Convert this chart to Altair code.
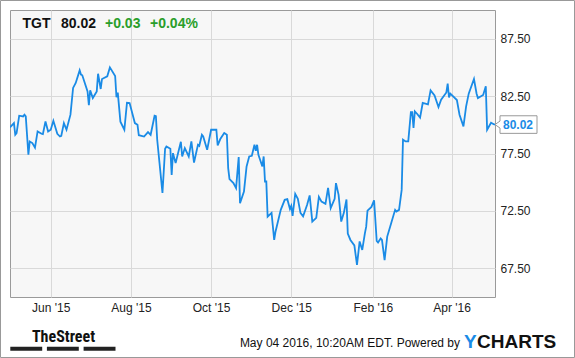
import altair as alt
import pandas as pd

# ---------------- data ----------------
dates = [
    "2015-05-01", "2015-05-04", "2015-05-05", "2015-05-06", "2015-05-08", "2015-05-11", "2015-05-12",
    "2015-05-13", "2015-05-15", "2015-05-16", "2015-05-18", "2015-05-20", "2015-05-22", "2015-05-25",
    "2015-05-26", "2015-05-28", "2015-05-30", "2015-06-01", "2015-06-03", "2015-06-06", "2015-06-08",
    "2015-06-09", "2015-06-11", "2015-06-13", "2015-06-16", "2015-06-18", "2015-06-20", "2015-06-23",
    "2015-06-24", "2015-06-25", "2015-06-29", "2015-06-30", "2015-07-01", "2015-07-03", "2015-07-06",
    "2015-07-07", "2015-07-09", "2015-07-10", "2015-07-14", "2015-07-16", "2015-07-20", "2015-07-21",
    "2015-07-22", "2015-07-24", "2015-07-27", "2015-07-29", "2015-07-31", "2015-08-04", "2015-08-06",
    "2015-08-07", "2015-08-11", "2015-08-14", "2015-08-16", "2015-08-19", "2015-08-20", "2015-08-21",
    "2015-08-25", "2015-08-27", "2015-08-28", "2015-08-31", "2015-09-01", "2015-09-02", "2015-09-04",
    "2015-09-08", "2015-09-09", "2015-09-11", "2015-09-14", "2015-09-16", "2015-09-18", "2015-09-21",
    "2015-09-22", "2015-09-24", "2015-09-25", "2015-09-28", "2015-10-01", "2015-10-05", "2015-10-06",
    "2015-10-08", "2015-10-11", "2015-10-13", "2015-10-14", "2015-10-15", "2015-10-18", "2015-10-20",
    "2015-10-22", "2015-10-23", "2015-10-26", "2015-10-28", "2015-10-30", "2015-11-01", "2015-11-03",
    "2015-11-04", "2015-11-05", "2015-11-06", "2015-11-09", "2015-11-10", "2015-11-11", "2015-11-12",
    "2015-11-13", "2015-11-16", "2015-11-18", "2015-11-19", "2015-11-23", "2015-11-26", "2015-11-28",
    "2015-11-30", "2015-12-01", "2015-12-02", "2015-12-04", "2015-12-06", "2015-12-08", "2015-12-10",
    "2015-12-13", "2015-12-15", "2015-12-17", "2015-12-20", "2015-12-22", "2015-12-24", "2015-12-27",
    "2015-12-29", "2015-12-31", "2016-01-03", "2016-01-04", "2016-01-06", "2016-01-08", "2016-01-10",
    "2016-01-12", "2016-01-13", "2016-01-15", "2016-01-18", "2016-01-20", "2016-01-22", "2016-01-24",
    "2016-01-26", "2016-01-27", "2016-01-28", "2016-01-31", "2016-02-02", "2016-02-04", "2016-02-05",
    "2016-02-07", "2016-02-08", "2016-02-10", "2016-02-12", "2016-02-15", "2016-02-18", "2016-02-19",
    "2016-02-21", "2016-02-23", "2016-02-24", "2016-02-26", "2016-02-28", "2016-03-01", "2016-03-02",
    "2016-03-03", "2016-03-04", "2016-03-06", "2016-03-08", "2016-03-10", "2016-03-14", "2016-03-16",
    "2016-03-19", "2016-03-22", "2016-03-24", "2016-03-28", "2016-03-29", "2016-03-30", "2016-03-31",
    "2016-04-05", "2016-04-07", "2016-04-10", "2016-04-12", "2016-04-14", "2016-04-18", "2016-04-20",
    "2016-04-21", "2016-04-25", "2016-04-27", "2016-04-28", "2016-05-01", "2016-05-03", "2016-05-04",
]
prices = [
    79.77, 80.15, 79.13, 79.28, 80.79, 80.73, 80.88,
    80.73, 77.39, 78.55, 78.41, 78.02, 79.42, 79.22,
    79.19, 80.29, 79.42, 79.57, 80.35, 79.22, 78.98,
    79.04, 80.15, 79.57, 80.88, 83.21, 83.64, 84.74,
    84.37, 84.31, 82.91, 81.71, 83.01, 82.33, 82.91,
    84.45, 83.12, 83.99, 84.22, 85.00, 84.25, 82.40,
    82.80, 80.27, 79.57, 81.92, 81.90, 80.15, 80.00,
    79.09, 78.98, 79.37, 79.13, 80.79, 80.75, 78.70,
    74.07, 77.91, 78.11, 77.91, 75.64, 77.53, 76.66,
    78.52, 77.24, 77.97, 77.24, 78.55, 76.71, 78.26,
    78.17, 79.13, 78.98, 77.82, 79.57, 79.57, 78.20,
    78.76, 79.28, 79.13, 76.23, 75.27, 74.92, 74.48,
    77.19, 73.17, 74.18, 76.37, 77.24, 77.30, 78.26,
    77.74, 78.26, 77.39, 76.37, 77.24, 75.06, 75.06,
    72.00, 72.33, 69.97, 70.69, 72.59, 73.46, 73.52,
    72.67, 72.94, 72.06, 73.98, 73.55, 72.33, 72.02,
    73.02, 73.85, 71.57, 71.89, 73.72, 73.31, 73.11,
    74.51, 72.74, 73.55, 74.92, 73.90, 71.57, 72.33,
    73.49, 70.52, 69.97, 69.49, 67.79, 69.84, 69.10,
    70.55, 71.13, 72.53, 72.85, 73.43, 69.88, 69.75,
    70.10, 69.97, 68.22, 70.26, 71.43, 72.59, 72.44,
    72.59, 74.33, 78.70, 78.55, 78.55, 81.10, 81.10,
    79.72, 81.17, 80.92, 80.62, 81.90, 81.78, 83.00,
    82.55, 81.55, 82.19, 82.82, 83.58, 82.38, 82.71,
    82.16, 80.88, 79.86, 81.58, 82.71, 83.99, 82.71,
    82.33, 82.60, 83.35, 79.57, 80.18, 80.05, 80.02,
]
y_ticks = [67.5, 72.5, 77.5, 82.5, 87.5]
x_tick_months = [(2015, 6), (2015, 8), (2015, 10), (2015, 12), (2016, 2), (2016, 4)]
header = ["TGT", "80.02", "+0.03", "+0.04%"]
footer_note = "May 04 2016, 10:20AM EDT. Powered by"

# ---------------- styling ----------------
FONT = "Liberation Sans"
NARROW = "Liberation Sans Narrow, Roboto Condensed, DejaVu Sans Condensed, Liberation Sans"
BLUE = "#1a8be6"
GREEN = "#2a9e2a"
W, H = 485, 287

df = pd.DataFrame({"date": dates, "price": prices})

x_scale = alt.Scale(
    type="utc",
    domain=[alt.DateTime(year=2015, month=5, date=1, utc=True),
            alt.DateTime(year=2016, month=5, date=4, utc=True)],
)
y_scale = alt.Scale(domain=[65, 90], nice=False, zero=False)

x_axis = alt.Axis(
    values=[alt.DateTime(year=y, month=m, date=1, utc=True) for y, m in x_tick_months],
    labelExpr="utcFormat(datum.value, \"%b '%y\")",
    title=None, domain=False, ticks=False, grid=True, gridColor="#d9d9d9",
    labelFont=FONT, labelFontSize=12, labelColor="#222", labelPadding=5,
)
y_axis = alt.Axis(
    orient="right", values=y_ticks, format=".2f", title=None, domain=False, ticks=False,
    grid=True, gridColor="#d9d9d9", labelFont=FONT, labelFontSize=12, labelColor="#222",
    labelPadding=5, labelAlign="left",
)

line = alt.Chart(df).mark_line(color=BLUE, strokeWidth=1.8, clip=True).encode(
    x=alt.X("date:T", scale=x_scale, axis=x_axis),
    y=alt.Y("price:Q", scale=y_scale, axis=y_axis),
)

last = pd.DataFrame({"price": [prices[-1]], "label": [f"{prices[-1]:.2f}"]})
callout = alt.Chart(last).mark_point(
    shape="M0,0L5,-3.5L5,-8.8L42,-8.8L42,8.8L5,8.8L5,3.5Z",
    size=4, filled=True, fill="white", stroke="#999", strokeWidth=1, opacity=1,
).encode(x=alt.value(W), y=alt.Y("price:Q"))
callout_text = alt.Chart(last).mark_text(
    font=FONT, fontSize=12, fontWeight="bold", color=BLUE, align="center",
    baseline="middle", dx=23,
).encode(x=alt.value(W), y=alt.Y("price:Q"), text="label:N")


def label(text, x, y, color="#111", size=14, weight="bold", align="left", baseline="middle",
          font=FONT):
    return alt.Chart(pd.DataFrame({"t": [text]})).mark_text(
        font=font, fontSize=size, fontWeight=weight, color=color, align=align, baseline=baseline,
    ).encode(x=alt.value(x), y=alt.value(y), text="t:N")


head = [
    label(header[0], 12.5, 13.5),
    label(header[1], 51, 13.5),
    label(header[2], 95, 13.5, color=GREEN),
    label(header[3], 140, 13.5, color=GREEN),
]

one = pd.DataFrame({"k": [0]})
bars = [
    alt.Chart(one).mark_rect(color="#222").encode(
        x=alt.value(a), x2=alt.value(b), y=alt.value(336.7), y2=alt.value(340.7))
    for a, b in [(0.3, 32.2), (36.9, 68.8), (73.6, 105.5)]
]
footer = [
    label("TheStreet", 53.5, 331.7, color="#111", size=16, align="center", baseline="alphabetic",
          font=NARROW),
    label(footer_note, 450, 337, color="#111", size=12, weight="normal", align="right",
          baseline="alphabetic"),
    label("Y", 454, 338.3, color=BLUE, size=19, weight="bold", baseline="alphabetic"),
    label("CHARTS", 467, 338.3, color="#111", size=19, weight="bold", baseline="alphabetic"),
]
frame = alt.Chart(one).mark_rect(fillOpacity=0, stroke="#999", strokeWidth=1).encode(
    x=alt.value(-9.5), x2=alt.value(564.5), y=alt.value(-9.5), y2=alt.value(347.5))

chart = alt.layer(line, callout, callout_text, *head, *bars, *footer, frame).properties(
    width=W, height=H,
    autosize=alt.AutoSizeParams(type="none"),
    padding={"left": 10, "top": 10, "right": 80, "bottom": 61},
    background="white",
).configure_view(fill="#f7f7f7", stroke="#9a9a9a", strokeWidth=1)

chart.save("out.html", embed_options={"renderer": "svg", "actions": False})
